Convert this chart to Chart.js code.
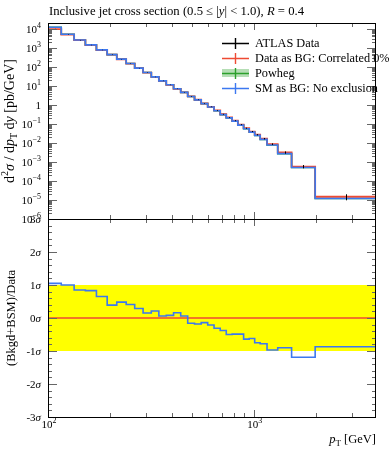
<!DOCTYPE html>
<html>
<head>
<meta charset="utf-8">
<script src="https://cdn.jsdelivr.net/npm/chart.js@4.4.1/dist/chart.umd.min.js"></script>
<style>
  html, body { margin: 0; padding: 0; background: #fff; }
  #wrap { position: relative; width: 389px; height: 450px; }
  canvas { position: absolute; left: 0; top: 0; }
</style>
</head>
<body>
<div id="wrap">
  <canvas id="spectrum" width="389" height="450"></canvas>
  <canvas id="pull" width="389" height="450"></canvas>
</div>
<script>
// pT bin edges [GeV]
const binEdges = [100, 116, 134, 152, 172, 194, 216, 240, 264, 290, 318, 346, 376, 408, 442, 478,
  516, 556, 598, 642, 688, 736, 786, 838, 894, 952, 1012, 1076, 1162, 1310, 1530, 1992, 3937];

// d2sigma/dpT dy [pb/GeV]
const smAsBg = [12300, 5250, 2630, 1450, 794, 447, 257, 151, 87, 51, 30, 18.6, 11.5, 7.1, 4.6, 2.8,
  1.86, 1.17, 0.78, 0.50, 0.31, 0.21, 0.141, 0.087, 0.056, 0.037, 0.025, 0.0155, 0.0078, 0.00275, 5.1e-4, 1.2e-5];
const dataAsBg = [9800, 5000, 2550, 1420, 780, 440, 254, 149, 86, 50.5, 29.7, 18.5, 11.4, 7.05, 4.58, 2.82,
  1.88, 1.19, 0.80, 0.52, 0.325, 0.22, 0.148, 0.092, 0.060, 0.040, 0.027, 0.0168, 0.0087, 0.00316, 5.75e-4, 1.48e-5];
const atlasData = [9800, 5000, 2550, 1420, 780, 440, 254, 149, 86, 50.5, 29.7, 18.5, 11.4, 7.05, 4.58, 2.82,
  1.88, 1.19, 0.80, 0.52, 0.325, 0.22, 0.148, 0.092, 0.060, 0.040, 0.027, 0.0168, 0.0087, 0.00316, 5.75e-4, 1.48e-5];
const atlasErr = [0.03, 0.03, 0.03, 0.03, 0.03, 0.03, 0.03, 0.03, 0.03, 0.03, 0.03, 0.03, 0.03, 0.03, 0.03, 0.04,
  0.04, 0.04, 0.04, 0.05, 0.05, 0.05, 0.06, 0.06, 0.07, 0.07, 0.08, 0.09, 0.10, 0.14, 0.20, 0.35];

// (Bkgd+BSM)/Data pull in sigma, lower panel
const smPull = [1.05, 1.0, 0.85, 0.83, 0.65, 0.39, 0.48, 0.41, 0.29, 0.15, 0.21, 0.06, 0.08, 0.16, 0.06, -0.16,
  -0.18, -0.14, -0.21, -0.31, -0.38, -0.5, -0.49, -0.49, -0.64, -0.62, -0.75, -0.78, -0.97, -0.9, -1.19, -0.87];
const dataPull = [0, 0, 0, 0, 0, 0, 0, 0, 0, 0, 0, 0, 0, 0, 0, 0,
  0, 0, 0, 0, 0, 0, 0, 0, 0, 0, 0, 0, 0, 0, 0, 0];

const yDecades = [-6, -5, -4, -3, -2, -1, 0, 1, 2, 3, 4];
const pullTicks = [-3, -2, -1, 0, 1, 2, 3];
const xMajor = [100, 1000];
const xMinor = [200, 300, 400, 500, 600, 700, 800, 900, 2000, 3000];

const L = 48, R = 376, T1 = 23, B1 = 219, B2 = 417, W = 389, H = 450;
const FONT = '"Liberation Serif", "DejaVu Serif", serif';
const BLUE = '#3c78f0', RED = '#ee4a33', GREEN = '#2ca02c';

function steps(vals) {
  const pts = vals.map((v, i) => ({ x: binEdges[i], y: v }));
  pts.push({ x: binEdges[vals.length], y: vals[vals.length - 1] });
  return pts;
}

function fontFor(p, size) {
  const s = (p.sup || p.sub) ? size * 0.72 : size;
  return (p.i ? 'italic ' : '') + s + 'px ' + FONT;
}
function drawRich(ctx, parts, x, y, size, align) {
  let w = 0;
  parts.forEach(p => { ctx.font = fontFor(p, size); w += ctx.measureText(p.t).width; });
  let cx = align === 'right' ? x - w : align === 'center' ? x - w / 2 : x;
  ctx.textAlign = 'left';
  ctx.textBaseline = 'alphabetic';
  parts.forEach(p => {
    ctx.font = fontFor(p, size);
    const dy = p.sup ? -size * 0.42 : p.sub ? size * 0.22 : 0;
    ctx.fillText(p.t, cx, y + dy);
    cx += ctx.measureText(p.t).width;
  });
}

function drawFrame(chart, yMaj, yMin) {
  const { ctx, chartArea: a, scales: { x, y } } = chart;
  ctx.save();
  ctx.lineWidth = 1;
  ctx.strokeStyle = '#666';
  ctx.beginPath();
  const tx = (v, len) => {
    const px = Math.round(x.getPixelForValue(v)) + 0.5;
    ctx.moveTo(px, a.top); ctx.lineTo(px, a.top + len);
    ctx.moveTo(px, a.bottom); ctx.lineTo(px, a.bottom - len);
  };
  const ty = (v, len) => {
    const py = Math.round(y.getPixelForValue(v)) + 0.5;
    ctx.moveTo(a.left, py); ctx.lineTo(a.left + len, py);
    ctx.moveTo(a.right, py); ctx.lineTo(a.right - len, py);
  };
  xMajor.forEach(v => tx(v, 7));
  xMinor.forEach(v => tx(v, 4));
  yMaj.forEach(v => ty(v, 9));
  yMin.forEach(v => ty(v, 4));
  ctx.stroke();
  ctx.strokeStyle = '#000';
  ctx.strokeRect(a.left + 0.5, a.top + 0.5, a.right - a.left - 1, a.bottom - a.top);
  ctx.restore();
}

const logMajors = yDecades.map(e => Math.pow(10, e));
const logMinors = [];
yDecades.forEach(e => { for (let k = 2; k <= 9; k++) { const v = k * Math.pow(10, e); if (v < 2.05e4) logMinors.push(v); } });
const pullMinors = [];
for (let i = -15; i <= 15; i++) if (i % 5 !== 0) pullMinors.push(i / 5);

const topDecor = {
  id: 'topDecor',
  afterDatasetsDraw(chart) {
    const { ctx, scales: { x, y } } = chart;
    // data error bars
    const meta = chart.getDatasetMeta(0);
    ctx.save();
    ctx.strokeStyle = '#000';
    ctx.lineWidth = 1;
    ctx.beginPath();
    meta.data.forEach((pt, i) => {
      const v = atlasData[i], e = atlasErr[i];
      const px = Math.round(pt.x) + 0.5;
      ctx.moveTo(px, y.getPixelForValue(v * (1 + e)));
      ctx.lineTo(px, y.getPixelForValue(v * (1 - e)));
    });
    ctx.stroke();
    ctx.restore();
    drawFrame(chart, logMajors, logMinors);

    ctx.save();
    ctx.fillStyle = '#000';
    // title
    drawRich(ctx, [{ t: 'Inclusive jet cross section (0.5 \u2264 |' }, { t: 'y', i: 1 }, { t: '| < 1.0), ' },
      { t: 'R', i: 1 }, { t: ' = 0.4' }], 49, 15, 12.7, 'left');
    // y tick labels
    yDecades.forEach(e => {
      const py = y.getPixelForValue(Math.pow(10, e)) + 4;
      if (e === 0) drawRich(ctx, [{ t: '1' }], 41, py, 11, 'right');
      else drawRich(ctx, [{ t: '10' }, { t: e < 0 ? '\u2212' + (-e) : String(e), sup: 1 }], 41, py, 11, 'right');
    });
    // y title
    ctx.save();
    ctx.translate(14, (T1 + B1) / 2);
    ctx.rotate(-Math.PI / 2);
    drawRich(ctx, [{ t: 'd' }, { t: '2', sup: 1 }, { t: '\u03c3', i: 1 }, { t: ' / d' }, { t: 'p', i: 1 }, { t: 'T', sub: 1 },
      { t: ' d' }, { t: 'y', i: 1 }, { t: ' [pb/GeV]' }], 0, 0, 14, 'center');
    ctx.restore();
    // legend
    const items = [
      { label: 'ATLAS Data', color: '#000' },
      { label: 'Data as BG: Correlated 0%', color: RED },
      { label: 'Powheg', color: GREEN, band: 'rgba(44,160,44,0.35)' },
      { label: 'SM as BG: No exclusion', color: BLUE }
    ];
    items.forEach((it, i) => {
      const cy = 43 + i * 15;
      if (it.band) { ctx.fillStyle = it.band; ctx.fillRect(222, cy - 4, 27, 8); }
      ctx.strokeStyle = it.color;
      ctx.lineWidth = 1.4;
      ctx.beginPath();
      ctx.moveTo(222, cy + 0.5); ctx.lineTo(249, cy + 0.5);
      ctx.moveTo(235.5, cy - 5); ctx.lineTo(235.5, cy + 6);
      ctx.stroke();
      ctx.fillStyle = '#000';
      drawRich(ctx, [{ t: it.label }], 255, cy + 4, 12.3, 'left');
    });
    ctx.restore();
  }
};

const pullDecor = {
  id: 'pullDecor',
  afterDatasetsDraw(chart) {
    const { ctx, scales: { x, y } } = chart;
    drawFrame(chart, pullTicks, pullMinors);
    ctx.save();
    ctx.fillStyle = '#000';
    pullTicks.forEach(v => {
      drawRich(ctx, [{ t: String(v) }, { t: '\u03c3', i: 1 }], 41, y.getPixelForValue(v) + 4, 11, 'right');
    });
    xMajor.forEach((v, i) => {
      drawRich(ctx, [{ t: '10' }, { t: String(i + 2), sup: 1 }], x.getPixelForValue(v) + 1, 428, 11, 'center');
    });
    drawRich(ctx, [{ t: 'p', i: 1 }, { t: 'T', sub: 1 }, { t: ' [GeV]' }], R, 443, 12.5, 'right');
    ctx.save();
    ctx.translate(15, (B1 + B2) / 2);
    ctx.rotate(-Math.PI / 2);
    drawRich(ctx, [{ t: '(Bkgd+BSM)/Data' }], 0, 0, 12.5, 'center');
    ctx.restore();
    ctx.restore();
  }
};

const common = {
  responsive: false,
  animation: false,
  devicePixelRatio: 1,
  events: [],
  elements: { point: { radius: 0 }, line: { tension: 0 } },
  plugins: { legend: { display: false }, tooltip: { enabled: false } }
};

new Chart(document.getElementById('spectrum').getContext('2d'), {
  type: 'line',
  data: {
    datasets: [
      { label: 'ATLAS Data', data: atlasData.map((v, i) => ({ x: Math.sqrt(binEdges[i] * binEdges[i + 1]), y: v })),
        showLine: false, pointRadius: 0 },
      { label: 'SM as BG: No exclusion', data: steps(smAsBg), stepped: 'before', borderColor: BLUE, borderWidth: 1.6 },
      { label: 'Data as BG: Correlated 0%', data: steps(dataAsBg), stepped: 'before', borderColor: RED, borderWidth: 1.8 },
      { label: 'Powheg', data: steps(smAsBg), stepped: 'before', borderColor: GREEN, borderWidth: 1.6 }
    ]
  },
  options: Object.assign({}, common, {
    layout: { padding: { left: L, right: W - R, top: T1, bottom: H - B1 } },
    scales: {
      x: { type: 'logarithmic', min: 100, max: 3937, display: false },
      y: { type: 'logarithmic', min: 1e-6, max: 2.05e4, display: false }
    }
  }),
  plugins: [topDecor]
});

new Chart(document.getElementById('pull').getContext('2d'), {
  type: 'line',
  data: {
    datasets: [
      { label: 'SM as BG: No exclusion', data: steps(smPull), stepped: 'before', borderColor: BLUE, borderWidth: 1.6 },
      { label: 'Data as BG: Correlated 0%', data: steps(dataPull), stepped: 'before', borderColor: RED, borderWidth: 1.6 },
      { label: '1 sigma', data: [{ x: 100, y: 1 }, { x: 3937, y: 1 }], borderWidth: 0,
        backgroundColor: '#ffff00', fill: { value: -1 } }
    ]
  },
  options: Object.assign({}, common, {
    layout: { padding: { left: L, right: W - R, top: B1, bottom: H - B2 } },
    scales: {
      x: { type: 'logarithmic', min: 100, max: 3937, display: false },
      y: { type: 'linear', min: -3, max: 3, display: false }
    }
  }),
  plugins: [pullDecor]
});
</script>
</body>
</html>
